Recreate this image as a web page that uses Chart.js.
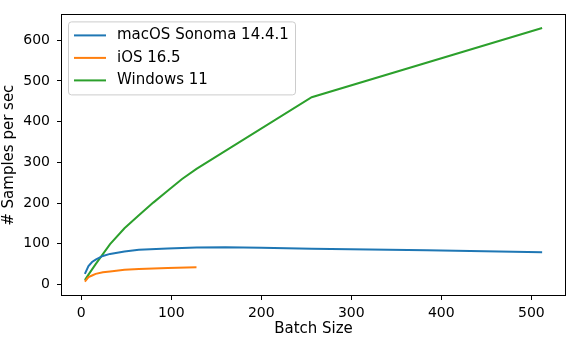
<!DOCTYPE html>
<html>
<head>
<meta charset="utf-8">
<script src="https://cdn.jsdelivr.net/npm/chart.js@4.4.1/dist/chart.umd.min.js"></script>
<style>
  html, body { margin: 0; padding: 0; background: #fff; }
  #wrap { width: 566px; height: 338px; }
</style>
</head>
<body>
<div id="wrap"><canvas id="chart" width="566" height="338"></canvas></div>
<script>
// values
const macBatch = [4, 8, 12, 16, 24, 32, 48, 64, 96, 128, 160, 200, 256, 320, 384, 448, 512]
const macRate  = [26, 45, 55, 61, 70, 75, 81, 85, 88.5, 91, 91.5, 90, 87.5, 86, 84, 81.5, 79]

const iosBatch = [4, 8, 12, 16, 24, 32, 48, 64, 96, 128]
const iosRate  = [7, 18, 22, 26, 30, 32, 36, 38, 40.5, 42]

const winBatch = [4, 8, 16, 21, 32, 48, 64, 80, 96, 112, 128, 256, 512]
const winRate  = [11, 24, 50, 65, 99, 138, 170, 201, 230, 259, 284, 460, 630]

const seriesNames = ['macOS Sonoma 14.4.1', 'iOS 16.5', 'Windows 11']
const seriesColors = ['#1f77b4', '#ff7f0e', '#2ca02c']

const xTicks = [0, 100, 200, 300, 400, 500]
const yTicks = [0, 100, 200, 300, 400, 500, 600]

const FONT = 'DejaVu Sans'

function pts(xs, ys){
  return xs.map((x, i) => ({x: x, y: ys[i]}))
}

// full box round the plot, like matplotlib spines
const spines = {
  id: 'spines',
  afterDatasetsDraw(chart){
    const a = chart.chartArea
    const ctx = chart.ctx
    ctx.save()
    ctx.strokeStyle = '#000'
    ctx.lineWidth = 1
    ctx.strokeRect(Math.round(a.left) - 0.5, Math.round(a.top) - 0.5, Math.round(a.right - a.left) + 1, Math.round(a.bottom - a.top) + 1)
    ctx.restore()
  }
}

// legend with a framed box in the upper left corner
const boxLegend = {
  id: 'boxLegend',
  afterDraw(chart){
    const a = chart.chartArea
    const ctx = chart.ctx
    const bx = a.left + 6.5, by = a.top + 6.5, bw = 227, bh = 73, r = 3
    ctx.save()
    ctx.beginPath()
    ctx.moveTo(bx + r, by)
    ctx.arcTo(bx + bw, by, bx + bw, by + bh, r)
    ctx.arcTo(bx + bw, by + bh, bx, by + bh, r)
    ctx.arcTo(bx, by + bh, bx, by, r)
    ctx.arcTo(bx, by, bx + bw, by, r)
    ctx.closePath()
    ctx.fillStyle = 'rgba(255,255,255,0.8)'
    ctx.fill()
    ctx.strokeStyle = '#cccccc'
    ctx.lineWidth = 1
    ctx.stroke()

    ctx.font = '15px "' + FONT + '"'
    ctx.textBaseline = 'middle'
    ctx.textAlign = 'left'
    chart.data.datasets.forEach((ds, i) => {
      const y = a.top + 20 + i * 22.5
      ctx.beginPath()
      ctx.moveTo(a.left + 12, y)
      ctx.lineTo(a.left + 44, y)
      ctx.strokeStyle = ds.borderColor
      ctx.lineWidth = 2
      ctx.stroke()
      ctx.fillStyle = '#000'
      ctx.fillText(ds.label, a.left + 55, y)
    })
    ctx.restore()
  }
}

const ctx = document.getElementById('chart').getContext('2d')
const chart = new Chart(ctx, {
  type: 'line',
  data: {
    datasets: [
      { label: seriesNames[0], data: pts(macBatch, macRate) },
      { label: seriesNames[1], data: pts(iosBatch, iosRate) },
      { label: seriesNames[2], data: pts(winBatch, winRate) }
    ].map((d, i) => Object.assign(d, {
      borderColor: seriesColors[i],
      backgroundColor: seriesColors[i],
      borderWidth: 2,
      pointRadius: 0,
      pointHoverRadius: 0,
      tension: 0,
      fill: false
    }))
  },
  options: {
    responsive: false,
    animation: false,
    devicePixelRatio: 1,
    layout: { padding: { top: 1, right: 1, left: 0, bottom: 0 } },
    plugins: {
      legend: { display: false },
      tooltip: { enabled: false }
    },
    scales: {
      x: {
        type: 'linear',
        min: -21.4,
        max: 537.4,
        afterBuildTicks: s => { s.ticks = xTicks.map(v => ({value: v})) },
        afterFit: s => { s.height = 43 },
        border: { display: false },
        grid: { display: true, drawOnChartArea: false, drawTicks: true, tickLength: 5, tickColor: '#000', color: '#000' },
        ticks: { color: '#000', font: { family: FONT, size: 14 }, padding: 5, maxRotation: 0, autoSkip: false },
        title: { display: true, text: 'Batch Size', color: '#000', font: { family: FONT, size: 15 }, padding: 0 }
      },
      y: {
        type: 'linear',
        min: -26,
        max: 661,
        afterBuildTicks: s => { s.ticks = yTicks.map(v => ({value: v})) },
        afterFit: s => { s.width = 62 },
        border: { display: false },
        grid: { display: true, drawOnChartArea: false, drawTicks: true, tickLength: 5, tickColor: '#000', color: '#000' },
        ticks: { color: '#000', font: { family: FONT, size: 14 }, padding: 7, autoSkip: false },
        title: { display: true, text: '# Samples per sec', color: '#000', font: { family: FONT, size: 15 }, padding: 0 }
      }
    }
  },
  plugins: [spines, boxLegend]
})
</script>
</body>
</html>
